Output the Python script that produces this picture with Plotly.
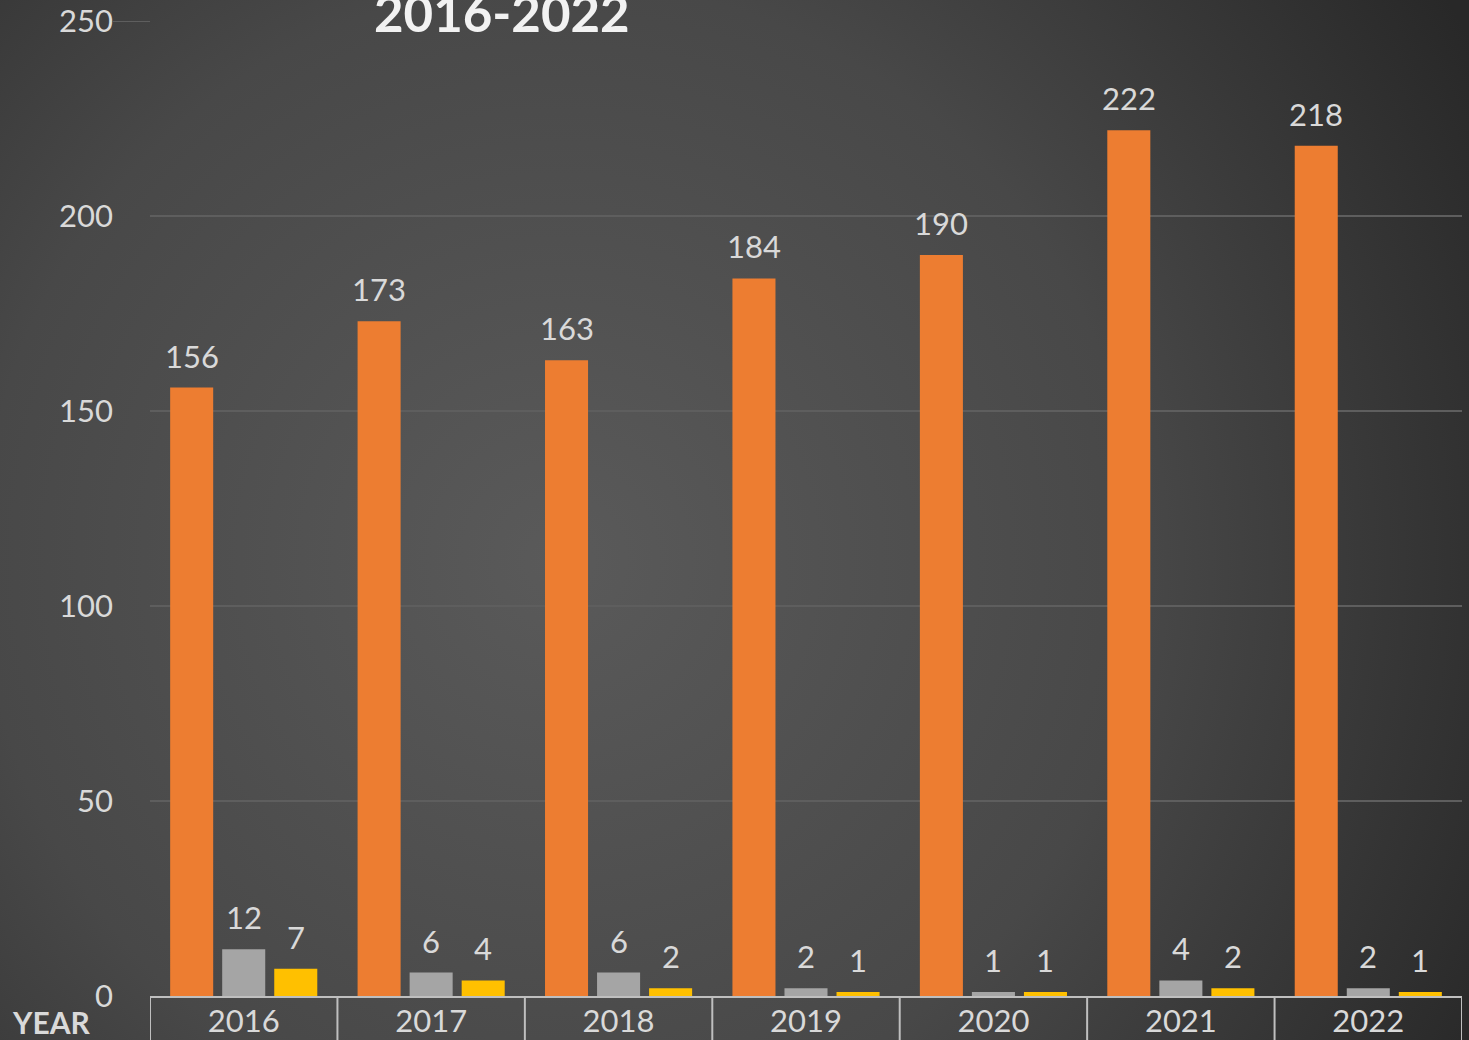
import base64
import plotly.graph_objects as go

years = ["2016", "2017", "2018", "2019", "2020", "2021", "2022"]
series_a = [156, 173, 163, 184, 190, 222, 218]
series_b = [12, 6, 6, 2, 1, 4, 2]
series_c = [7, 4, 2, 1, 1, 2, 1]
y_ticks = [0, 50, 100, 150, 200, 250]
title_text = "2016-2022"
axis_title = "YEAR"

colors = ["#ED7D31", "#A5A5A5", "#FFC000"]
FONT = "Lato, Carlito, Calibri, sans-serif"
LABEL = "#D9D9D9"

W, H = 1469, 1040
L, R, T, B = 150, 7, 21, 44
pw, ph = W - L - R, H - T - B

fig = go.Figure()
for vals, col in zip([series_a, series_b, series_c], colors):
    fig.add_trace(go.Bar(x=years, y=vals, marker=dict(color=col, line=dict(width=0)),
                         showlegend=False, hoverinfo="x+y"))

# data labels (x given as category index so numeric-looking categories are not misread)
for i, vals in enumerate([series_a, series_b, series_c]):
    for j, v in enumerate(vals):
        fig.add_annotation(x=j, y=v, text=str(v), showarrow=False, xref="x", yref="y",
                           xanchor="center", yanchor="bottom", xshift=(i - 1) * 52, yshift=11,
                           font=dict(family=FONT, size=31, color=LABEL))

# background radial gradient
svg = f'''<svg xmlns="http://www.w3.org/2000/svg" width="{W}" height="{H}" viewBox="0 0 {W} {H}">
<defs><radialGradient id="g" gradientUnits="userSpaceOnUse" cx="560" cy="560" r="1050">
<stop offset="0" stop-color="#5a5a5a"/><stop offset="0.55" stop-color="#484848"/><stop offset="1" stop-color="#282828"/></radialGradient></defs>
<rect width="{W}" height="{H}" fill="url(#g)"/></svg>'''
src = "data:image/svg+xml;base64," + base64.b64encode(svg.encode()).decode()
fig.add_layout_image(dict(source=src, xref="paper", yref="paper", x=-L / pw, y=1 + T / ph,
                          sizex=W / pw, sizey=H / ph, xanchor="left", yanchor="top",
                          sizing="stretch", layer="below"))

# category table separators
for k in range(len(years) + 1):
    fig.add_shape(type="line", xref="x", yref="paper", x0=k - 0.5, x1=k - 0.5, y0=0, y1=-0.06,
                  line=dict(color="#BFBFBF", width=2))
# top gridline extension
fig.add_shape(type="line", xref="paper", yref="y", x0=-38 / pw, x1=0, y0=250, y1=250,
              line=dict(color="#5E5E5E", width=2))

fig.add_annotation(text=f"<b>{title_text}</b>", xref="paper", yref="paper",
                   x=(502 - L) / pw, y=1 + 8 / ph, xanchor="center", yanchor="middle",
                   showarrow=False, font=dict(family=FONT, size=51, color="#F2F2F2"))
fig.add_annotation(text=f"<b>{axis_title}</b>", xref="paper", yref="paper",
                   x=(10 - L) / pw, y=-(1022 - (H - B)) / ph, xanchor="left", yanchor="middle",
                   showarrow=False, font=dict(family=FONT, size=30, color=LABEL))

fig.update_layout(
    width=W, height=H, autosize=False,
    margin=dict(l=L, r=R, t=T, b=B, pad=0, autoexpand=False),
    paper_bgcolor="#3e3e3e", plot_bgcolor="rgba(0,0,0,0)",
    barmode="group", bargap=0.167, bargroupgap=0.173,
    font=dict(family=FONT, color=LABEL),
)
fig.update_xaxes(type="category", range=[-0.5, 6.5], showgrid=False, showline=True,
                 linecolor="#BFBFBF", linewidth=2, ticks="", zeroline=False, automargin=False,
                 tickfont=dict(family=FONT, size=31, color=LABEL), ticklabelstandoff=-3)
fig.update_yaxes(range=[0, 250], tickvals=y_ticks, showgrid=True, gridcolor="#5E5E5E",
                 gridwidth=2, zeroline=False, showline=False, ticks="", automargin=False,
                 tickfont=dict(family=FONT, size=31, color=LABEL), ticklabelstandoff=36)

fig.write_html("out.html", config={"displayModeBar": False},
               post_script="document.body.style.margin='0';")
